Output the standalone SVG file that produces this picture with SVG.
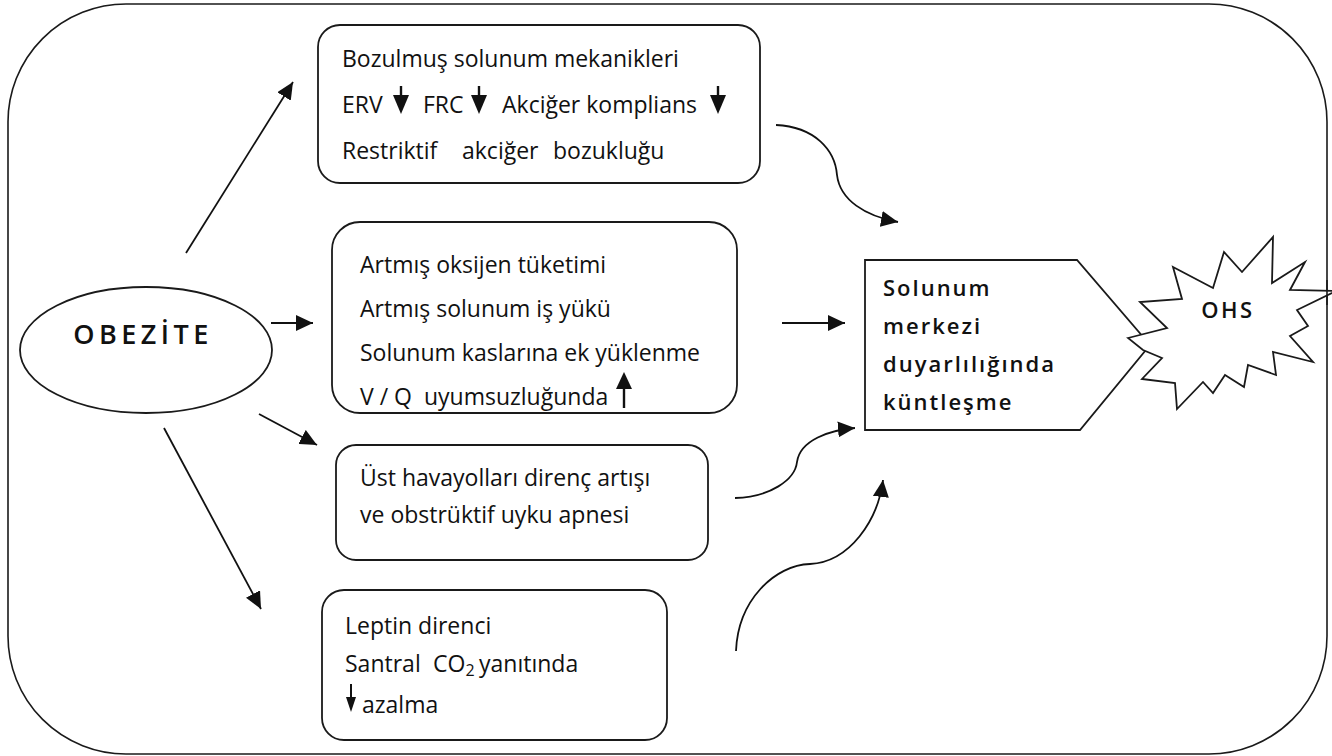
<svg xmlns="http://www.w3.org/2000/svg" width="1332" height="756" viewBox="0 0 1332 756">
<defs>
<style>
.frame{fill:none;stroke:#1a1a1a;stroke-width:1.6}
.box{fill:#fff;stroke:#1a1a1a;stroke-width:1.8}
.t{font-family:"Open Sans","Liberation Sans",sans-serif;font-size:23px;fill:#111}
.b{font-family:"Open Sans","Liberation Sans",sans-serif;font-weight:600;fill:#111}
.con{fill:none;stroke:#111;stroke-width:1.8}
.ar{fill:#111}
</style>
<marker id="ah" markerUnits="userSpaceOnUse" markerWidth="18" markerHeight="16" refX="17" refY="8" orient="auto">
<path d="M0,0 L17,8 L0,16 z" fill="#111"/>
</marker>
<g id="down">
<line x1="0" y1="0" x2="0" y2="12" stroke="#111" stroke-width="2.4"/>
<path d="M-8,9 L8,9 L0,28 z" fill="#111"/>
</g>
<g id="up">
<line x1="0" y1="14" x2="0" y2="36" stroke="#111" stroke-width="2.4"/>
<path d="M-8,17 L8,17 L0,0 z" fill="#111"/>
</g>
</defs>
<rect width="1332" height="756" fill="#fff"/>
<rect class="frame" x="8" y="4" width="1319" height="750" rx="118" ry="118"/>

<g id="obezite">
<ellipse class="box" cx="146" cy="350" rx="126" ry="63"/>
<text class="b" x="143" y="344" text-anchor="middle" font-size="27" font-weight="bold" letter-spacing="4.5">OBEZİTE</text>
</g>

<g id="box-mekanik">
<rect class="box" x="318" y="25" width="442" height="158" rx="22"/>
<text class="t" x="342" y="67">Bozulmuş solunum mekanikleri</text>
<text class="t" y="113"><tspan x="342">ERV</tspan><tspan x="423">FRC</tspan><tspan x="502">Akciğer komplians</tspan></text>
<use href="#down" x="401" y="86"/>
<use href="#down" x="479" y="86"/>
<use href="#down" x="718" y="86"/>
<text class="t" y="159"><tspan x="342">Restriktif</tspan><tspan x="462">akciğer</tspan><tspan x="553">bozukluğu</tspan></text>
</g>

<g id="box-oksijen">
<rect class="box" x="332" y="222" width="405" height="191" rx="28"/>
<text class="t" x="360" y="273">Artmış oksijen tüketimi</text>
<text class="t" x="360" y="317">Artmış solunum iş yükü</text>
<text class="t" x="360" y="361">Solunum kaslarına ek yüklenme</text>
<text class="t" x="360" y="405" xml:space="preserve">V / Q  uyumsuzluğunda</text>
<use href="#up" x="624" y="372"/>
</g>

<g id="box-havayolu">
<rect class="box" x="336" y="445" width="372" height="115" rx="20"/>
<text class="t" x="360" y="486">Üst havayolları direnç artışı</text>
<text class="t" x="360" y="523">ve obstrüktif uyku apnesi</text>
</g>

<g id="box-leptin">
<rect class="box" x="322" y="590" width="345" height="150" rx="22"/>
<text class="t" x="345" y="634">Leptin direnci</text>
<text class="t" y="672"><tspan x="345">Santral</tspan><tspan x="433">CO</tspan><tspan font-size="16" dy="4">2</tspan><tspan x="479" dy="-4">yanıtında</tspan></text>
<line x1="351" y1="684" x2="351" y2="700" stroke="#111" stroke-width="2"/>
<path d="M346,697 L356,697 L351,712 z" class="ar"/>
<text class="t" x="362" y="713">azalma</text>
</g>

<g id="connectors">
<line class="con" x1="186" y1="253" x2="293" y2="82" marker-end="url(#ah)"/>
<line class="con" x1="271" y1="323" x2="313" y2="323" marker-end="url(#ah)"/>
<line class="con" x1="259" y1="414" x2="317" y2="445" marker-end="url(#ah)"/>
<line class="con" x1="164" y1="428" x2="261" y2="609" marker-end="url(#ah)"/>
<line class="con" x1="782" y1="323" x2="845" y2="323" marker-end="url(#ah)"/>
<path class="con" d="M776,125 C815,127 835,150 837,175 C840,200 865,216 898,222" marker-end="url(#ah)"/>
<path class="con" d="M735,498 C770,497 795,480 797,462 C800,440 830,430 855,428" marker-end="url(#ah)"/>
<path class="con" d="M736,651 C738,600 775,565 810,564 C850,562 878,520 883,480" marker-end="url(#ah)"/>
</g>

<g id="solunum-merkezi">
<path class="box" d="M865,260 L1077,260 L1150,345 L1080,430 L865,430 Z"/>
<text class="b" font-size="22" letter-spacing="2" x="883" y="296">Solunum</text>
<text class="b" font-size="22" letter-spacing="2" x="883" y="334">merkezi</text>
<text class="b" font-size="22" letter-spacing="2" x="883" y="372">duyarlılığında</text>
<text class="b" font-size="22" letter-spacing="2" x="883" y="410">küntleşme</text>
</g>

<g id="ohs">
<path class="box" d="M1128,338 L1167,328 L1140,302 L1182,299 L1173,267 L1213,288 L1224,252 L1242,272 L1273,237 L1272,283 L1305,262 L1290,290 L1336,291 L1297,310 L1308,326 L1290,336 L1313,362 L1273,352 L1276,375 L1248,365 L1244,387 L1225,375 L1213,393 L1203,382 L1177,409 L1175,383 L1142,379 L1162,358 L1143,350 Z"/>
<line x1="1327" y1="280" x2="1327" y2="305" stroke="#1a1a1a" stroke-width="1.6"/>
<text class="b" font-size="22" letter-spacing="2.5" x="1228" y="318" text-anchor="middle">OHS</text>
</g>
</svg>
